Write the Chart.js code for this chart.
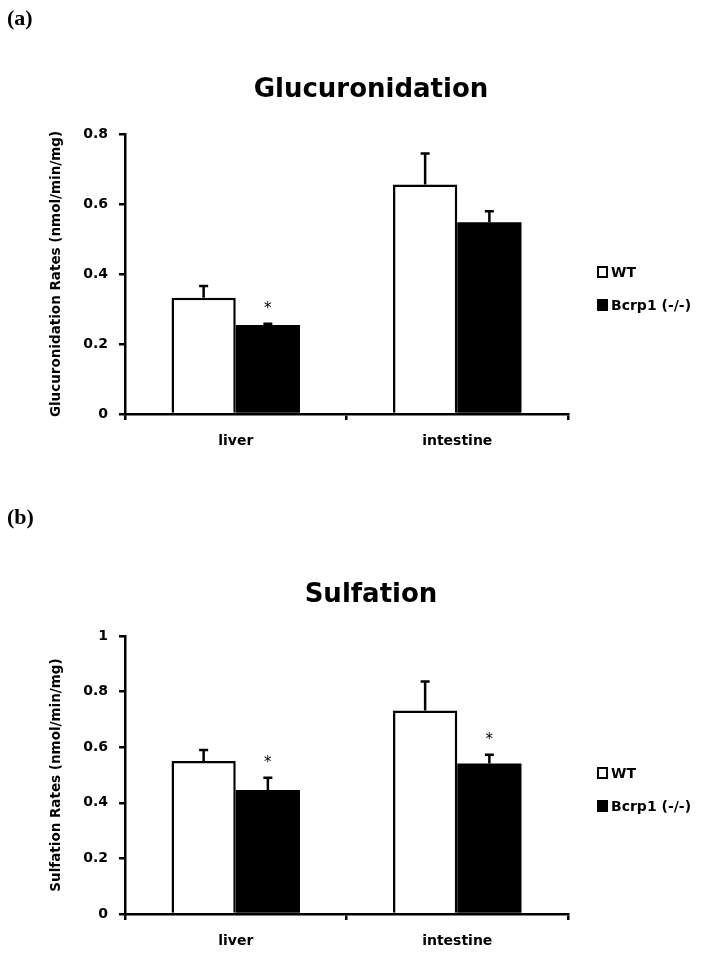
<!DOCTYPE html>
<html>
<head>
<meta charset="utf-8">
<script src="https://cdn.jsdelivr.net/npm/chart.js@4.4.1/dist/chart.umd.min.js"></script>
<style>
  html, body { margin: 0; padding: 0; background: #fff; }
  canvas { display: block; }
</style>
</head>
<body>
<canvas id="chartA" width="701" height="460"></canvas>
<canvas id="chartB" width="701" height="495"></canvas>
<script>
// Categories and series names
const categories = ['liver', 'intestine'];
const seriesNames = ['WT', 'Bcrp1 (-/-)'];

// (a) Glucuronidation rates (nmol/min/mg)
const glucWT     = [0.332, 0.656];
const glucWTErr  = [0.034, 0.088];
const glucKO     = [0.254, 0.548];
const glucKOErr  = [0.004, 0.031];
const glucKOSig  = [true, false];
const glucTicks  = [0, 0.2, 0.4, 0.6, 0.8];

// (b) Sulfation rates (nmol/min/mg)
const sulfWT     = [0.550, 0.732];
const sulfWTErr  = [0.040, 0.104];
const sulfKO     = [0.446, 0.541];
const sulfKOErr  = [0.044, 0.032];
const sulfKOSig  = [true, true];
const sulfTicks  = [0, 0.2, 0.4, 0.6, 0.8, 1];

const FONT = '"DejaVu Sans", Verdana, sans-serif';

// Error bars (upper half only), significance stars, legend, titles
const decorPlugin = {
    id: 'decor',
    afterDatasetsDraw(chart) {
        const { ctx, chartArea, scales } = chart;
        const o = chart.options.plugins.decor;
        const y = scales.y;

        ctx.save();
        ctx.strokeStyle = '#000';
        ctx.lineWidth = 2.5;
        chart.data.datasets.forEach((ds, di) => {
            const meta = chart.getDatasetMeta(di);
            meta.data.forEach((bar, i) => {
                const top = y.getPixelForValue(ds.data[i] + ds.errors[i]);
                ctx.beginPath();
                ctx.moveTo(bar.x, bar.y);
                ctx.lineTo(bar.x, top);
                ctx.moveTo(bar.x - 4.5, top);
                ctx.lineTo(bar.x + 4.5, top);
                ctx.stroke();
                if (ds.sig && ds.sig[i]) {
                    ctx.fillStyle = '#000';
                    ctx.font = '15px ' + FONT;
                    ctx.textAlign = 'center';
                    ctx.textBaseline = 'middle';
                    ctx.fillText('*', bar.x, top - 15);
                }
            });
        });

        // legend
        const lx = chartArea.right + 29;
        const ly = (chartArea.top + chartArea.bottom) / 2 - 2;
        chart.data.datasets.forEach((ds, di) => {
            const cy = ly + di * 33;
            ctx.fillStyle = ds.backgroundColor;
            ctx.fillRect(lx, cy - 6, 11, 12);
            ctx.lineWidth = 2;
            ctx.strokeStyle = '#000';
            ctx.strokeRect(lx + 1, cy - 5, 9, 10);
            ctx.fillStyle = '#000';
            ctx.font = 'bold 14px ' + FONT;
            ctx.textAlign = 'left';
            ctx.textBaseline = 'middle';
            ctx.fillText(ds.label, lx + 14, cy + 1);
        });

        // chart title
        ctx.font = 'bold 26px ' + FONT;
        ctx.textAlign = 'center';
        ctx.textBaseline = 'middle';
        ctx.fillText(o.title, 371, chartArea.top - o.titleGap);

        // panel label
        ctx.font = 'bold 22px "Liberation Serif", serif';
        ctx.textAlign = 'left';
        ctx.fillText(o.panel, 7, o.panelY);
        ctx.restore();
    }
};

function makeChart(id, wt, wtErr, ko, koErr, koSig, ticks, yTitle, title, panel, top, xHeight, titleGap, panelY) {
    return new Chart(document.getElementById(id), {
        type: 'bar',
        data: {
            labels: categories,
            datasets: [
                {
                    label: seriesNames[0],
                    data: wt,
                    errors: wtErr,
                    backgroundColor: '#ffffff',
                    borderColor: '#000000',
                    borderWidth: 2.5,
                    borderSkipped: 'start',
                    barPercentage: 1,
                    categoryPercentage: 0.58,
                },
                {
                    label: seriesNames[1],
                    data: ko,
                    errors: koErr,
                    sig: koSig,
                    backgroundColor: '#000000',
                    borderColor: '#000000',
                    borderWidth: 0,
                    barPercentage: 1,
                    categoryPercentage: 0.58,
                },
            ],
        },
        options: {
            responsive: false,
            animation: false,
            events: [],
            layout: { padding: { top: top, left: 0, right: 133, bottom: 0 } },
            plugins: {
                legend: { display: false },
                tooltip: { enabled: false },
                title: { display: false },
                decor: { title, panel, titleGap, panelY },
            },
            scales: {
                x: {
                    z: 1,
                    grid: { display: true, drawOnChartArea: false, drawTicks: true, tickLength: 6, color: '#000', lineWidth: 2.5, offset: true },
                    border: { display: true, color: '#000', width: 2.5 },
                    ticks: { color: '#000', font: { family: FONT, size: 14, weight: 'bold' }, padding: 13 },
                    afterFit(s) { s.height = xHeight; },
                },
                y: {
                    min: 0,
                    max: ticks[ticks.length - 1],
                    afterBuildTicks(s) { s.ticks = ticks.map(v => ({ value: v })); },
                    grid: { display: true, drawOnChartArea: false, drawTicks: true, tickLength: 6, color: '#000', lineWidth: 2.5 },
                    border: { display: true, color: '#000', width: 2.5 },
                    ticks: {
                        color: '#000',
                        font: { family: FONT, size: 14, weight: 'bold' },
                        padding: 11,
                        callback: v => String(v),
                    },
                    title: {
                        display: true,
                        text: yTitle,
                        color: '#000',
                        font: { family: FONT, size: 13.5, weight: 'bold' },
                        padding: { top: 48, bottom: 0 },
                    },
                    afterFit(s) { s.width = 125; },
                },
            },
        },
        plugins: [decorPlugin],
    });
}

makeChart('chartA', glucWT, glucWTErr, glucKO, glucKOErr, glucKOSig, glucTicks,
    'Glucuronidation Rates (nmol/min/mg)', 'Glucuronidation', '(a)', 134, 46, 44, 19);
makeChart('chartB', sulfWT, sulfWTErr, sulfKO, sulfKOErr, sulfKOSig, sulfTicks,
    'Sulfation Rates (nmol/min/mg)', 'Sulfation', '(b)', 176, 41, 41, 58);
</script>
</body>
</html>
